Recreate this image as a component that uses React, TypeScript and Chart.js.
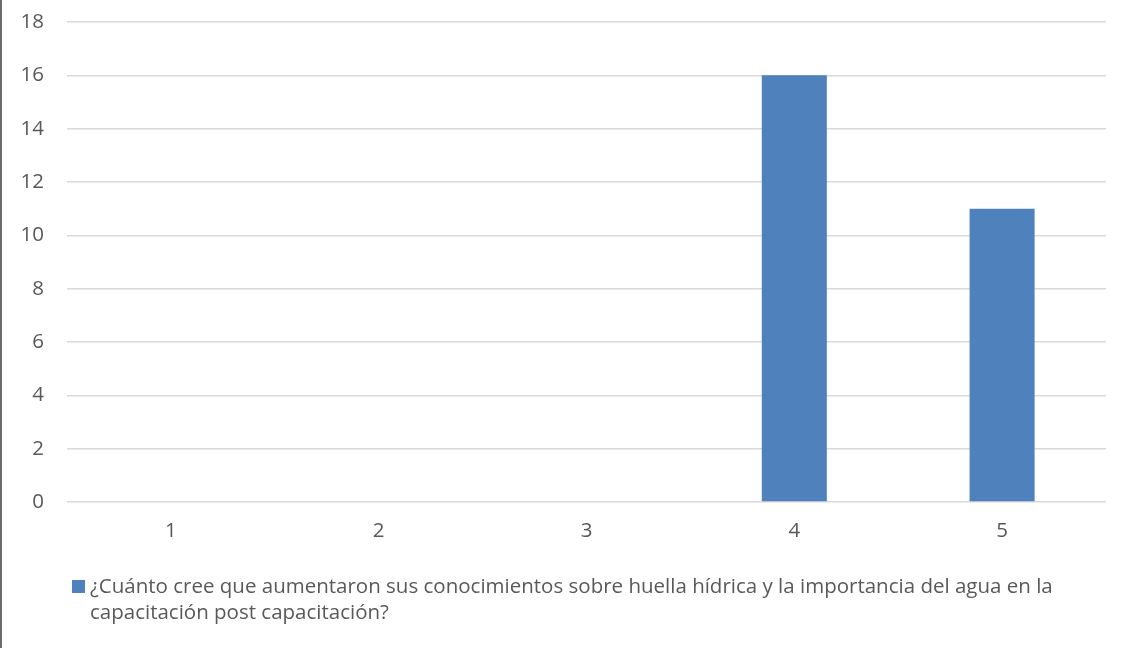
import React, { useEffect, useRef } from "react";
import { Chart, registerables } from "chart.js";

Chart.register(...registerables);

const categories: string[] = ["1", "2", "3", "4", "5"];
const responses: number[] = [0, 0, 0, 16, 11];
const yTicks: number[] = [0, 2, 4, 6, 8, 10, 12, 14, 16, 18];
const seriesName =
  "¿Cuánto cree que aumentaron sus conocimientos sobre huella hídrica y la importancia del agua en la capacitación post capacitación?";
const legendLines: string[] = [
  "¿Cuánto cree que aumentaron sus conocimientos sobre huella hídrica y la importancia del agua en la",
  "capacitación post capacitación?",
];

const BAR_COLOR = "#4F81BD";
const TEXT_COLOR = "#595959";
const GRID_COLOR = "#D9D9D9";
const FONT = "'Open Sans', 'Noto Sans', sans-serif";
const FONT_SIZE = 20.5;

// Legend drawn below the plot, wrapping the long series name onto two lines
const wrappedLegend = {
  id: "wrappedLegend",
  afterDraw(chart: Chart) {
    const ctx = chart.ctx;
    ctx.save();
    ctx.fillStyle = BAR_COLOR;
    ctx.fillRect(70, 580, 13, 13);
    ctx.fillStyle = TEXT_COLOR;
    ctx.font = `${FONT_SIZE}px ${FONT}`;
    ctx.textBaseline = "middle";
    ctx.textAlign = "left";
    legendLines.forEach((line, i) => {
      ctx.fillText(line, 88, 587 + i * 26);
    });
    ctx.restore();
  },
};

export default function App() {
  const canvasRef = useRef<HTMLCanvasElement | null>(null);

  useEffect(() => {
    if (!canvasRef.current) return;
    const chart = new Chart(canvasRef.current, {
      type: "bar",
      data: {
        labels: categories,
        datasets: [
          {
            label: seriesName,
            data: responses,
            backgroundColor: BAR_COLOR,
            borderWidth: 0,
            categoryPercentage: 1,
            barPercentage: 0.313,
          },
        ],
      },
      options: {
        animation: false,
        responsive: false,
        maintainAspectRatio: false,
        layout: { padding: { top: 22, right: 17, left: 0, bottom: 0 } },
        plugins: {
          legend: { display: false },
          tooltip: { enabled: false },
        },
        scales: {
          x: {
            grid: { display: false, drawTicks: false },
            border: { display: false },
            ticks: {
              color: TEXT_COLOR,
              font: { family: FONT, size: FONT_SIZE },
              padding: 17,
            },
            afterFit(scale: any) {
              scale.height = 146;
              scale.paddingLeft = 0;
              scale.paddingRight = 0;
            },
          },
          y: {
            min: 0,
            max: 18,
            afterBuildTicks(scale: any) {
              scale.ticks = yTicks.map((v) => ({ value: v }));
            },
            grid: { color: GRID_COLOR, lineWidth: 1.5, drawTicks: false },
            border: { display: false },
            ticks: {
              color: TEXT_COLOR,
              font: { family: FONT, size: FONT_SIZE },
              padding: 23,
            },
            afterFit(scale: any) {
              scale.width = 65;
              scale.paddingTop = 0;
              scale.paddingBottom = 0;
            },
          },
        },
      },
      plugins: [wrappedLegend],
    });
    return () => chart.destroy();
  }, []);

  return (
    <div
      style={{
        position: "absolute",
        left: 0,
        top: 0,
        width: 1123,
        height: 648,
        background: "#ffffff",
        borderLeft: "2px solid #6b6b6b",
        boxSizing: "border-box",
      }}
    >
      <canvas ref={canvasRef} width={1121} height={648} style={{ display: "block" }} />
    </div>
  );
}
